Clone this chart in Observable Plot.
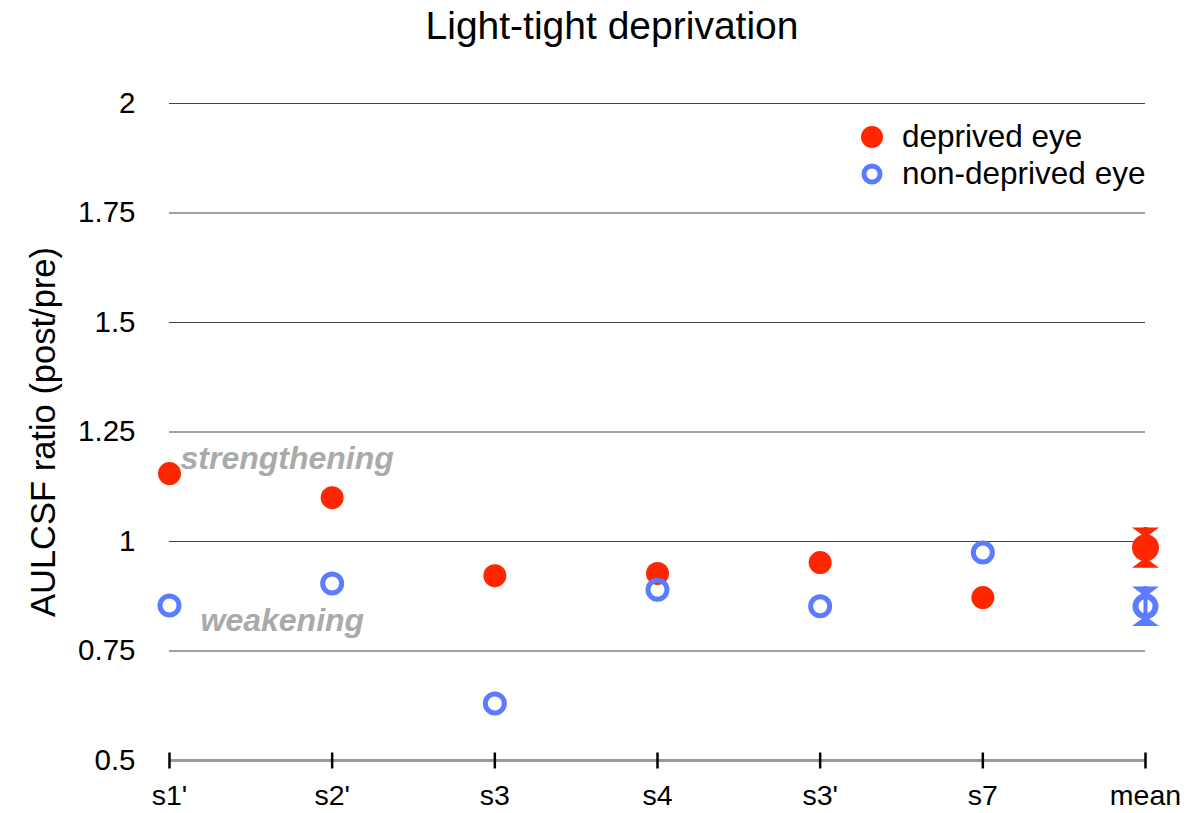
<!DOCTYPE html>
<html><head><meta charset="utf-8">
<script src="https://cdn.jsdelivr.net/npm/d3@7"></script>
<script src="https://cdn.jsdelivr.net/npm/@observablehq/plot@0.6"></script>
<style>
body{margin:0;background:#fff;font-family:"Liberation Sans",Arial,Helvetica,sans-serif;}
#wrap{position:relative;width:1188px;height:813px;overflow:hidden;}
#title{position:absolute;left:0;top:4px;width:1224px;text-align:center;font-size:39px;color:#000;}
.leg{position:absolute;left:856px;font-size:31.5px;color:#000;display:flex;align-items:center;}
.leg svg{margin-right:14px;}
#chart{position:absolute;left:0;top:0;}
</style></head>
<body>
<div id="wrap">
  <div id="chart"></div>
  <div id="title">Light-tight deprivation</div>
  <div class="leg" style="top:118px"><svg width="32" height="36"><circle cx="16" cy="18" r="11" fill="#FF2600"/></svg>deprived eye</div>
  <div class="leg" style="top:155px"><svg width="32" height="36"><circle cx="16" cy="18" r="8" fill="none" stroke="#5B7CFF" stroke-width="5"/></svg>non-deprived eye</div>
</div>
<script>
const subjects = ["s1'", "s2'", "s3", "s4", "s3'", "s7", "mean"];
const deprived = [1.155, 1.10, 0.922, 0.927, 0.952, 0.872, 0.986];
const nonDeprived = [0.854, 0.904, 0.630, 0.890, 0.852, 0.975, 0.852];
const meanErr = [0.046, 0.045]; // deprived, non-deprived
const yTicks = [0.5, 0.75, 1, 1.25, 1.5, 1.75, 2];
const gridValues = [0.75, 1, 1.25, 1.5, 1.75, 2];
const strengthLabel = [{label: "strengthening", x: "s1'", y: 1.19}];
const weakLabel = [{label: "weakening", x: "s1'", y: 0.82}];

const RED = "#FF2600", BLUE = "#5B7CFF";
const rows = subjects.map((s, i) => ({subject: s, dep: deprived[i], non: nonDeprived[i]}));
const indiv = rows.filter(d => d.subject !== "mean");
const meanRow = rows.filter(d => d.subject === "mean");
const errRows = [
  {subject: "mean", v: deprived[6], e: meanErr[0], c: RED},
  {subject: "mean", v: nonDeprived[6], e: meanErr[1], c: BLUE}
];

const vline = {draw(ctx, size) { const r = Math.sqrt(size / Math.PI); ctx.moveTo(0, -r); ctx.lineTo(0, r); }};
const capTop = {draw(ctx, size) { const r = Math.sqrt(size / Math.PI); ctx.moveTo(-r, 0); ctx.lineTo(r, 0); ctx.lineTo(0, r * 0.75); ctx.closePath(); }};
const capBot = {draw(ctx, size) { const r = Math.sqrt(size / Math.PI); ctx.moveTo(-r, 0); ctx.lineTo(r, 0); ctx.lineTo(0, -r * 0.75); ctx.closePath(); }};

const font = "Liberation Sans, Arial, Helvetica, sans-serif";
const annStyle = {x: "x", y: "y", text: "label", textAnchor: "start", fontSize: 32, fontWeight: "bold", fontStyle: "italic", fill: "#A9ABAB"};
const chart = Plot.plot({
  width: 1188, height: 813,
  marginTop: 103, marginBottom: 53, marginLeft: 169, marginRight: 43,
  style: {fontFamily: font, background: "transparent"},
  x: {type: "point", domain: subjects, padding: 0, round: false},
  y: {domain: [0.5, 2]},
  marks: [
    Plot.ruleY(gridValues, {stroke: "#444", strokeWidth: 1.2}),
    Plot.ruleY([0.5], {stroke: "#9a9a9a", strokeWidth: 3}),
    Plot.dot(subjects, {x: d => d, y: () => 0.5, symbol: vline, r: 8, stroke: "#000", strokeWidth: 2.5, fill: "none"}),
    Plot.axisY({ticks: yTicks, tickSize: 0, tickPadding: 34, fontSize: 29.5, tickFormat: d => String(d), label: null}),
    Plot.axisX({tickSize: 0, tickPadding: 24, fontSize: 28.5, label: null}),
    Plot.text(["AULCSF ratio (post/pre)"], {frameAnchor: "left", dx: -126, rotate: -90, textAnchor: "middle", fontSize: 34.5, fill: "#000"}),
    Plot.text(strengthLabel, {...annStyle, dx: 11}),
    Plot.text(weakLabel, {...annStyle, dx: 31}),
    Plot.dot(indiv, {x: "subject", y: "dep", r: 11.5, fill: RED}),
    Plot.dot(indiv, {x: "subject", y: "non", r: 9.5, stroke: BLUE, strokeWidth: 5, fill: "none"}),
    Plot.ruleX(errRows, {x: "subject", y1: d => d.v - d.e, y2: d => d.v + d.e, stroke: "c", strokeWidth: 4}),
    Plot.dot(errRows, {x: "subject", y: d => d.v + d.e, symbol: capTop, r: 13.5, fill: "c", stroke: "none"}),
    Plot.dot(errRows, {x: "subject", y: d => d.v - d.e, symbol: capBot, r: 13.5, fill: "c", stroke: "none"}),
    Plot.dot(meanRow, {x: "subject", y: "dep", r: 13.5, fill: RED}),
    Plot.dot(meanRow, {x: "subject", y: "non", r: 10, stroke: BLUE, strokeWidth: 6, fill: "none"})
  ]
});
document.getElementById("chart").appendChild(chart);
</script>
</body></html>
